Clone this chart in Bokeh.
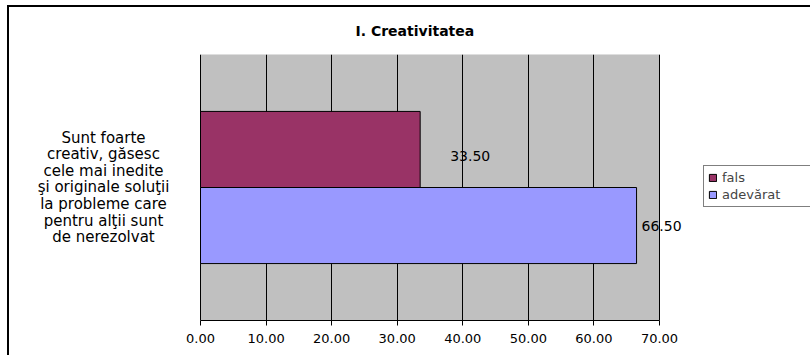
from bokeh.plotting import figure
from bokeh.models import (FactorRange, Range1d, ColumnDataSource, Legend, LegendItem,
                          NumeralTickFormatter, FixedTicker, LabelSet, BoxAnnotation)
from bokeh.core.properties import value
from bokeh.transform import dodge
from bokeh.embed import file_html
from bokeh.resources import INLINE

# ---- data ----
title_text = "I. Creativitatea"
categories = ["Sunt foarte\ncreativ, găsesc\ncele mai inedite\nşi originale soluţii\nla probleme care\npentru alţii sunt\nde nerezolvat"]
series = ["fals", "adevărat"]
values = [33.50, 66.50]
x_ticks = [0, 10, 20, 30, 40, 50, 60, 70]
x_min, x_max = 0, 70

# ---- layout / style ----
colors = ["#993366", "#9999FF"]
offsets = [0.143, -0.143]
label_dx = [30, 5]
label_dy = [-7, 0]
FONT = "DejaVu Sans"

CANVAS_LEFT = 9           # screen x of canvas origin
PLOT_LEFT, PLOT_RIGHT = 200, 659   # screen x of 0 and 70
FRAME_RIGHT = 810
ppu = (PLOT_RIGHT - PLOT_LEFT) / (x_max - x_min)
range_start = x_min - (PLOT_LEFT - CANVAS_LEFT) / ppu
range_end = x_max + (FRAME_RIGHT - PLOT_RIGHT) / ppu
cat_label_x = x_min - (PLOT_LEFT - 103) / ppu

p = figure(
    y_range=FactorRange(factors=categories),
    x_range=Range1d(range_start, range_end),
    frame_width=FRAME_RIGHT - CANVAS_LEFT, frame_height=266,
    min_border_left=0, min_border_right=0,
    min_border_top=47, min_border_bottom=35,
    output_backend="svg", toolbar_location=None,
    background_fill_color="white", border_fill_color="white",
    outline_line_color=None,
    styles={"border-top": "2px solid black", "border-left": "2px solid black",
            "margin-left": "7px", "margin-top": "5px"},
)

p.title.text = title_text
p.title.align = "left"
p.title.offset = 415 - 60 - CANVAS_LEFT
p.title.vertical_align = "top"
p.title.standoff = 28
p.title.text_font = FONT
p.title.text_font_size = "14px"
p.title.text_font_style = "bold"
p.title.text_color = "black"

# plot area background
p.add_layout(BoxAnnotation(left=x_min, right=x_max, fill_color="#C0C0C0", fill_alpha=1,
                           line_color="#808080", line_width=1, level="image"))

items = []
for name, val, col, off, dx, dy in zip(series, values, colors, offsets, label_dx, label_dy):
    src = ColumnDataSource(dict(y=[categories[0]], right=[val], lab=[f"{val:.2f}"]))
    r = p.hbar(y=dodge("y", off, range=p.y_range), left=0, right="right", height=0.286,
               fill_color=col, line_color="black", line_width=1, source=src)
    items.append(LegendItem(label=name, renderers=[r]))
    p.add_layout(LabelSet(x="right", y=dodge("y", off, range=p.y_range), text="lab",
                          x_offset=dx, y_offset=dy, source=src,
                          text_font=value(FONT), text_font_size="14px", text_color="black",
                          text_align="left", text_baseline="middle"))

# category label (left of plot area)
cat_src = ColumnDataSource(dict(y=categories, x=[cat_label_x] * len(categories), t=categories))
p.text(x="x", y="y", text="t", source=cat_src, text_font=value(FONT), text_font_size="15px",
       text_color="black", text_align="center", text_baseline="middle", text_line_height=0.92)

# x axis
p.xaxis.bounds = (x_min, x_max)
p.xaxis.ticker = FixedTicker(ticks=x_ticks)
p.xaxis.formatter = NumeralTickFormatter(format="0.00")
p.xaxis.major_label_text_font = FONT
p.xaxis.major_label_text_font_size = "13px"
p.xaxis.major_label_text_color = "black"
p.xaxis.major_tick_in = 0
p.xaxis.major_tick_out = 5
p.xaxis.major_tick_line_color = "black"
p.xaxis.minor_tick_line_color = None
p.xaxis.axis_line_color = "black"
p.xaxis.major_label_standoff = 8

p.yaxis.visible = False

p.xgrid.ticker = FixedTicker(ticks=x_ticks)
p.xgrid.grid_line_color = "black"
p.ygrid.grid_line_color = None

legend = Legend(items=items, location=(703 - CANVAS_LEFT, 113), orientation="vertical",
                border_line_color="black", border_line_width=1,
                background_fill_color="white", background_fill_alpha=1,
                label_text_font=FONT, label_text_font_size="13px",
                glyph_width=9, glyph_height=9, label_height=14, label_width=110,
                label_standoff=5, spacing=2, padding=4, margin=0)
p.add_layout(legend, "center")

open("out.html", "w").write(file_html(p, INLINE))
